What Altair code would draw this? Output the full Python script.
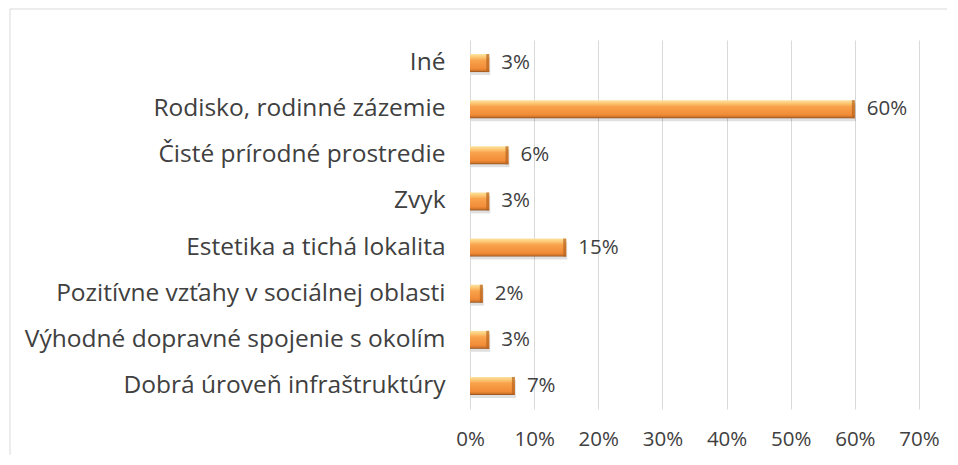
import altair as alt
import pandas as pd

categories = [
    "Iné",
    "Rodisko, rodinné zázemie",
    "Čisté prírodné prostredie",
    "Zvyk",
    "Estetika a tichá lokalita",
    "Pozitívne vzťahy v sociálnej oblasti",
    "Výhodné dopravné spojenie s okolím",
    "Dobrá úroveň infraštruktúry",
]
values = [0.03, 0.60, 0.06, 0.03, 0.15, 0.02, 0.03, 0.07]
labels = ["3%", "60%", "6%", "3%", "15%", "2%", "3%", "7%"]
x_ticks = [0, 0.1, 0.2, 0.3, 0.4, 0.5, 0.6, 0.7]

df = pd.DataFrame({"cat": categories, "val": values, "lab": labels})

FONT = "Open Sans"
TXT = "#404040"

y_enc = alt.Y("cat:N", sort=categories, title=None,
              scale=alt.Scale(paddingInner=0.6, paddingOuter=0.3))
x_enc = alt.X("val:Q", title=None,
              scale=alt.Scale(domain=[0, 0.7], nice=False),
              axis=alt.Axis(values=x_ticks, format=".0%", grid=True,
                            gridColor="#d9d9d9", gridWidth=1, domain=False,
                            ticks=False, labelFont=FONT, labelFontSize=20.5,
                            labelColor=TXT, labelPadding=20, labelFlush=False))

base = alt.Chart(df)

frame = base.mark_rect(fill=None, stroke="#d9d9d9", strokeWidth=1, clip=False).encode(
    x=alt.value(-460), x2=alt.value(700), y=alt.value(-31), y2=alt.value(600)
).transform_filter(alt.datum.cat == "Iné")

shadow = base.mark_bar(color="#000000", opacity=0.12, size=18, yOffset=3, xOffset=1).encode(
    y=y_enc, x=x_enc
)

grad = alt.Gradient(
    gradient="linear", x1=0, x2=0, y1=0, y2=1,
    stops=[
        alt.GradientStop(offset=0, color="#FDE3A0"),
        alt.GradientStop(offset=0.18, color="#FCC672"),
        alt.GradientStop(offset=0.35, color="#F9A24C"),
        alt.GradientStop(offset=0.8, color="#F18C38"),
        alt.GradientStop(offset=0.92, color="#D2762C"),
        alt.GradientStop(offset=1, color="#8E4E1A"),
    ],
)

bars = base.mark_bar(color=grad, size=18).encode(
    y=y_enc,
    x=x_enc,
    tooltip=["cat", "lab"],
)

endcap = base.mark_tick(color="#B8641F", thickness=3, size=18, xOffset=-1.5, orient="vertical").encode(
    y=y_enc, x=x_enc
)

text = base.mark_text(align="left", baseline="middle", dx=12, font=FONT,
                      fontSize=20.5, color=TXT).encode(
    y=y_enc, x=x_enc, text="lab:N"
)

chart = alt.layer(frame, shadow, bars, endcap, text).properties(
    width=449, height=369,
    autosize=alt.AutoSizeParams(type="none"),
    padding={"left": 462, "top": 32, "right": 28, "bottom": 46},
    background="white",
).configure_view(stroke=None).configure_axisY(
    labelFont=FONT, labelFontSize=24.5, labelColor=TXT, labelPadding=25,
    ticks=False, domain=False, grid=False, labelLimit=500
)

chart.save("out.html", embed_options={"renderer": "svg", "actions": False})
